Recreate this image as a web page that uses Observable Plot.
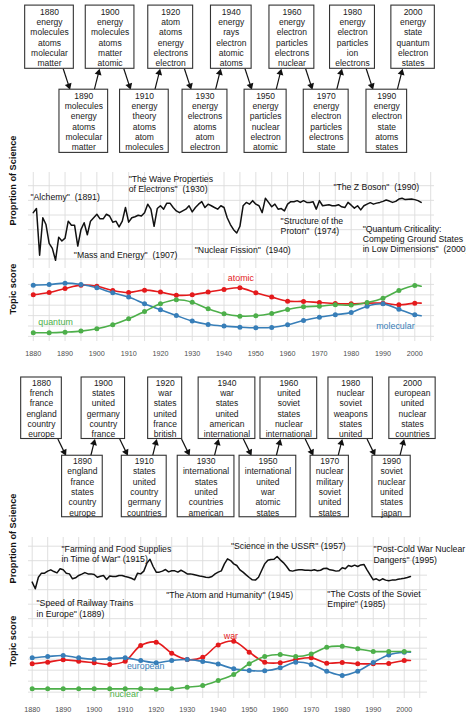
<!DOCTYPE html>
<html><head><meta charset="utf-8">
<script src="https://cdn.jsdelivr.net/npm/d3@7"></script>
<script src="https://cdn.jsdelivr.net/npm/@observablehq/plot@0.6"></script>
<style>
body{margin:0;background:#fff;}
#root{position:relative;width:466px;height:717px;overflow:hidden;background:#fff;}
#root > div{position:absolute;left:0;width:466px;}
</style></head><body><div id="root"></div>
<script>
// ================= DATA =================
const boxYears = [1880,1890,1900,1910,1920,1930,1940,1950,1960,1970,1980,1990,2000];
const physicsWords = [
  ["energy","molecules","atoms","molecular","matter"],
  ["molecules","energy","atoms","molecular","matter"],
  ["energy","molecules","atoms","matter","atomic"],
  ["energy","theory","atoms","atom","molecules"],
  ["atom","atoms","energy","electrons","electron"],
  ["energy","electrons","atoms","atom","electron"],
  ["energy","rays","electron","atomic","atoms"],
  ["energy","particles","nuclear","electron","atomic"],
  ["energy","electron","particles","electrons","nuclear"],
  ["energy","electron","particles","electrons","state"],
  ["energy","electron","particles","ion","electrons"],
  ["energy","electron","state","atoms","states"],
  ["energy","state","quantum","electron","states"]
];
const politicsWords = [
  ["french","france","england","country","europe"],
  ["england","france","states","country","europe"],
  ["states","united","germany","country","france"],
  ["states","united","country","germany","countries"],
  ["war","states","united","france","british"],
  ["international","states","united","countries","american"],
  ["war","states","united","american","international"],
  ["international","united","war","atomic","states"],
  ["united","soviet","states","nuclear","international"],
  ["nuclear","military","soviet","united","states"],
  ["nuclear","soviet","weapons","states","united"],
  ["soviet","nuclear","united","states","japan"],
  ["european","united","nuclear","states","countries"]
];

// yearly proportion of Science (arbitrary units), 1880–2002
const propYears = d3.range(1880, 2003);
const physicsProportion = [
  4.16,4.44,1.26,3.81,3.35,2.07,1.72,0.91,2.49,2.23,
  2.42,3.58,3.30,3.30,1.88,3.00,3.47,2.65,3.58,3.81,
  4.05,3.74,3.74,4.05,3.93,3.51,3.58,3.19,3.58,4.51,
  3.51,3.81,3.88,3.98,3.93,4.16,4.74,4.40,3.23,4.44,
  4.63,4.40,4.81,4.81,4.51,4.28,4.16,4.28,4.40,4.63,
  4.21,4.51,4.74,4.91,4.51,4.74,4.63,4.51,4.40,4.63,
  4.51,3.81,3.35,3.00,2.77,3.23,4.63,4.86,4.74,4.98,
  4.74,4.63,4.16,5.14,4.86,4.56,4.74,4.40,4.44,4.28,
  4.74,4.91,4.91,4.98,4.86,4.98,4.86,4.86,4.91,4.40,
  4.98,4.63,4.67,4.70,4.63,4.63,4.70,4.56,4.51,4.86,
  4.67,4.47,4.63,4.35,4.63,4.74,4.84,4.74,4.81,4.86,
  4.93,5.02,4.95,4.86,4.93,5.09,5.14,5.05,5.07,5.09,
  5.05,4.98,4.86
];
const politicsProportion = [
  3.52,3.06,3.86,4.14,4.14,4.28,4.37,4.25,4.16,4.44,
  4.37,4.14,4.09,3.75,3.82,3.98,4.07,4.18,4.09,4.09,
  4.05,3.86,3.93,3.98,3.70,3.95,3.91,3.91,3.98,3.98,
  3.91,3.86,3.79,3.68,4.14,4.09,4.28,4.83,5.10,4.60,
  4.21,4.21,4.28,4.39,4.23,4.30,4.30,4.21,4.34,4.23,
  4.09,4.09,4.05,4.00,3.95,3.91,3.86,3.84,3.91,4.09,
  4.21,4.30,4.78,5.13,5.01,4.78,4.67,4.37,4.21,4.02,
  3.84,3.68,3.66,3.86,4.32,4.78,5.03,5.08,5.10,5.29,
  5.06,4.87,4.62,4.32,4.28,4.34,4.37,4.37,4.34,4.34,
  4.32,4.37,4.30,4.34,4.46,4.48,4.37,4.34,4.28,4.30,
  4.51,4.44,4.67,4.60,4.69,4.60,4.71,4.74,4.37,4.02,
  3.68,3.75,3.63,3.75,3.66,3.61,3.66,3.66,3.72,3.75,
  3.79,3.84,3.91
];

// topic scores every 5 years (line end at 2002)
const topicYears = [1880,1885,1890,1895,1900,1905,1910,1915,1920,1925,1930,1935,1940,1945,1950,1955,1960,1965,1970,1975,1980,1985,1990,1995,2000,2002];
const atomicScore    = [5.00,5.22,5.61,5.93,5.83,5.42,5.22,5.45,5.26,4.97,5.00,5.26,5.51,5.67,5.19,4.78,4.39,4.36,4.26,4.17,4.13,4.20,4.20,4.04,4.20,4.20];
const molecularScore = [5.93,5.99,6.12,5.99,5.67,5.19,4.78,4.14,3.56,3.01,2.47,2.15,1.99,1.89,1.83,1.86,2.12,2.53,2.85,3.08,3.30,3.91,4.13,3.62,3.08,2.98];
const quantumScore   = [1.35,1.35,1.41,1.51,1.73,2.12,2.69,3.40,4.13,4.52,4.29,3.65,3.17,2.95,2.98,3.21,3.59,3.85,3.91,4.04,4.01,4.26,4.68,5.42,5.90,5.83];
const warScore       = [3.58,3.73,3.94,3.82,3.67,3.52,3.82,5.24,5.55,4.55,3.97,4.18,5.30,5.64,4.64,3.73,3.67,3.97,4.12,3.64,3.70,3.58,3.58,3.61,3.88,3.88];
const europeanScore  = [4.12,4.24,4.33,4.12,4.00,4.03,4.12,3.88,3.67,3.88,3.97,3.79,3.55,3.12,2.97,2.94,3.21,3.73,3.52,2.91,2.52,2.91,3.70,4.39,4.64,4.64];
const nuclearScore   = [1.30,1.30,1.30,1.30,1.30,1.30,1.30,1.30,1.27,1.30,1.45,1.61,2.06,2.61,3.58,4.24,4.42,4.24,4.48,5.09,5.18,4.94,4.70,4.70,4.70,4.70];

const physicsTopics = ["atomic","molecular","quantum"];
const politicsTopics = ["war","european","nuclear"];
const topicColors = ["#e41a1c","#377eb8","#4daf4a"];

const physicsLabels = [
  {name:"atomic", year:1945.3, score:6.57},
  {name:"quantum", year:1887.0, score:2.34},
  {name:"molecular", year:1993.9, score:1.96}
];
const politicsLabels = [
  {name:"war", year:1944.1, score:6.06},
  {name:"european", year:1916.6, score:3.36},
  {name:"nuclear", year:1909.7, score:0.79}
];

const physicsNotes = [
  {label:"\"Alchemy\"\u00a0\u00a0(1891)", year:1879.1, value:5.26},
  {label:"\"The Wave Properties\nof Electrons\"\u00a0\u00a0(1930)", year:1910.0, value:6.14},
  {label:"\"Mass and Energy\"\u00a0\u00a0(1907)", year:1892.75, value:1.26},
  {label:"\"Nuclear Fission\"\u00a0\u00a0(1940)", year:1930.8, value:1.65},
  {label:"\"Structure of the\nProton\"\u00a0\u00a0(1974)", year:1957.8, value:3.28},
  {label:"\"The Z Boson\"\u00a0\u00a0(1990)", year:1974.4, value:5.95},
  {label:"\"Quantum Criticality:\nCompeting Ground States\nin Low Dimensions\"\u00a0\u00a0(2000)", year:1983.6, value:2.37}
];
const politicsNotes = [
  {label:"\"Farming and Food Supplies\nin Time of War\" (1915)", year:1889.45, value:5.47},
  {label:"\"Speed of Railway Trains\nin Europe\" (1889)", year:1881.4, value:1.72},
  {label:"\"The Atom and Humanity\" (1945)", year:1923.2, value:2.64},
  {label:"\"Science in the USSR\" (1957)", year:1944.1, value:6.05},
  {label:"\"Post-Cold War Nuclear\nDangers\" (1995)", year:1990.1, value:5.45},
  {label:"\"The Costs of the Soviet\nEmpire\" (1985)", year:1975.2, value:2.37}
];

// ================= DRAWING =================
const FONT = '"Liberation Sans", Arial, Helvetica, sans-serif';
const GRID = "#dddddd";
const root = document.getElementById("root");
function place(node, top) {
  const d = document.createElement("div");
  d.style.top = top + "px";
  d.appendChild(node);
  root.appendChild(d);
}

const BOX_FS = 8.5;
const ctx = document.createElement("canvas").getContext("2d");
ctx.font = `${BOX_FS}px ${FONT}`;

function diagram(words, {height, x0, x1, rowTop, rowBottom, halfH, shift}) {
  const k = (x1 - x0) / 120;           // px per year
  const rowPx = rowBottom - rowTop;     // px per row unit
  const hh = halfH / rowPx;
  const boxes = boxYears.map((year, i) => {
    const row = i % 2;
    const lines = [String(year), ...words[i]];
    const w = d3.max(lines, s => ctx.measureText(s).width);
    const cx = year + (row ? shift / k : 0);
    const hw = (w / 2 + 5.2) / k;
    return {year, row, lines, cx, x1: cx - hw, x2: cx + hw};
  });
  const headR = 2.6;
  const tip = 2 * Math.sqrt(Math.PI * headR * headR / (3 * Math.sqrt(3)));
  const arrows = d3.pairs(boxes).map(([a, b]) => {
    const xa = a.cx + 0.4 * (b.cx - a.cx), xb = a.cx + 0.6 * (b.cx - a.cx);
    const ya = a.row === 0 ? hh : 1 - hh;
    const yb = b.row === 0 ? hh : 1 - hh;
    const dxp = (xb - xa) * k, dyp = (yb - ya) * rowPx;
    const len = Math.hypot(dxp, dyp);
    const ux = dxp / len, uy = dyp / len;
    return {
      xa, ya,
      hx: xb - ux * tip / k, hy: yb - uy * tip / rowPx,
      angle: Math.atan2(ux, -uy) * 180 / Math.PI
    };
  });
  return Plot.plot({
    width: 466, height, margin: 0,
    x: {domain: [1880, 2000], range: [x0, x1], axis: null},
    y: {domain: [0, 1], range: [rowTop, rowBottom], axis: null},
    style: {fontFamily: FONT, background: "transparent", overflow: "visible"},
    marks: [
      Plot.link(arrows, {x1: "xa", y1: "ya", x2: "hx", y2: "hy", stroke: "#111", strokeWidth: 1.2}),
      Plot.dot(arrows, {x: "hx", y: "hy", symbol: "triangle", r: headR, fill: "#111", stroke: "none", rotate: "angle"}),
      Plot.rect(boxes, {x1: "x1", x2: "x2", y1: d => d.row - hh, y2: d => d.row + hh, fill: "white", stroke: "#333", strokeWidth: 1.1}),
      Plot.text(boxes, {x: "cx", y: "row", text: d => d.lines.join("\n"), lineAnchor: "middle", lineHeight: 10.35 / BOX_FS, fontSize: BOX_FS, fill: "#1a1a1a"})
    ]
  });
}

function propChart(values, notes, {height, mt, mb, mr, xDomain, yDomain, titleDy}) {
  const data = propYears.map((year, i) => ({year, value: values[i]}));
  return Plot.plot({
    width: 466, height, marginTop: mt, marginBottom: mb, marginLeft: 28, marginRight: mr,
    x: {domain: xDomain, axis: null},
    y: {domain: yDomain, axis: null},
    style: {fontFamily: FONT, background: "transparent", overflow: "visible"},
    marks: [
      Plot.ruleX(d3.range(1880, 2006, 5), {stroke: GRID, strokeWidth: 0.9}),
      Plot.ruleY(d3.range(1, 7), {stroke: GRID, strokeWidth: 0.9}),
      Plot.line(data, {x: "year", y: "value", stroke: "#111", strokeWidth: 1.5}),
      Plot.text(notes, {x: "year", y: "value", text: "label", textAnchor: "start", lineAnchor: "middle", lineHeight: 1.17, fontSize: 8.7, fill: "#111"}),
      Plot.text(["Proprtion of Science"], {text: d => d, frameAnchor: "left", rotate: -90, dx: -15, dy: titleDy, fontSize: 9.2, fontWeight: "bold", fill: "#111"})
    ]
  });
}

function topicChart(topics, scores, labels, {height, mt, mb, mr, xDomain, yDomain, pad, titleDy}) {
  const data = topics.flatMap((name, j) => topicYears.map((year, i) => ({name, year, score: scores[j][i]})));
  return Plot.plot({
    width: 466, height, marginTop: mt, marginBottom: mb, marginLeft: 28, marginRight: mr,
    x: {domain: xDomain, ticks: d3.range(1880, 2001, 10), tickFormat: d => String(d), tickSize: 0, tickPadding: pad, label: null},
    y: {domain: yDomain, axis: null},
    color: {domain: topics, range: topicColors},
    style: {fontFamily: FONT, fontSize: "7.2px", color: "#4d4d4d", background: "transparent", overflow: "visible"},
    marks: [
      Plot.ruleX(d3.range(1880, 2006, 5), {stroke: GRID, strokeWidth: 0.9}),
      Plot.ruleY(d3.range(1, 7), {stroke: GRID, strokeWidth: 0.9}),
      Plot.line(data, {x: "year", y: "score", z: "name", stroke: "name", strokeWidth: 1.6, curve: "catmull-rom"}),
      Plot.dot(data.filter(d => d.year % 5 === 0), {x: "year", y: "score", fill: "name", r: 2.5}),
      Plot.text(labels, {x: "year", y: "score", text: "name", fill: "name", fontSize: 8.9}),
      Plot.text(["Topic score"], {text: d => d, frameAnchor: "left", rotate: -90, dx: -15, dy: titleDy, fontSize: 9.2, fontWeight: "bold", fill: "#111"})
    ]
  });
}

const X1 = [1878.5, 2006.2];
const X2 = [1878.81, 2007.5];

place(diagram(physicsWords, {height: 158, x0: 49, x1: 412.6, rowTop: 36.7, rowBottom: 120.8, halfH: 31.6, shift: 4}), 0);
place(propChart(physicsProportion, physicsNotes, {height: 110, mt: 12, mb: 2, mr: 32, xDomain: X1, yDomain: [0.35, 6.9], titleDy: 5}), 160);
place(topicChart(physicsTopics, [atomicScore, molecularScore, quantumScore], physicsLabels,
  {height: 90, mt: 3, mb: 19, mr: 32, xDomain: X1, yDomain: [0.51, 7.05], pad: 9, titleDy: 7}), 270);
place(diagram(politicsWords, {height: 150, x0: 41, x1: 412, rowTop: 37.75, rowBottom: 116, halfH: 30.75, shift: 10}), 370);
place(propChart(politicsProportion, politicsNotes, {height: 100, mt: 7, mb: 3, mr: 39, xDomain: X2, yDomain: [0.39, 6.6], titleDy: 1}), 530);
place(topicChart(politicsTopics, [warScore, europeanScore, nuclearScore], politicsLabels,
  {height: 87, mt: 1, mb: 19, mr: 39, xDomain: X2, yDomain: [0.42, 6.52], pad: 8, titleDy: 1.5}), 630);
</script>
</body></html>
